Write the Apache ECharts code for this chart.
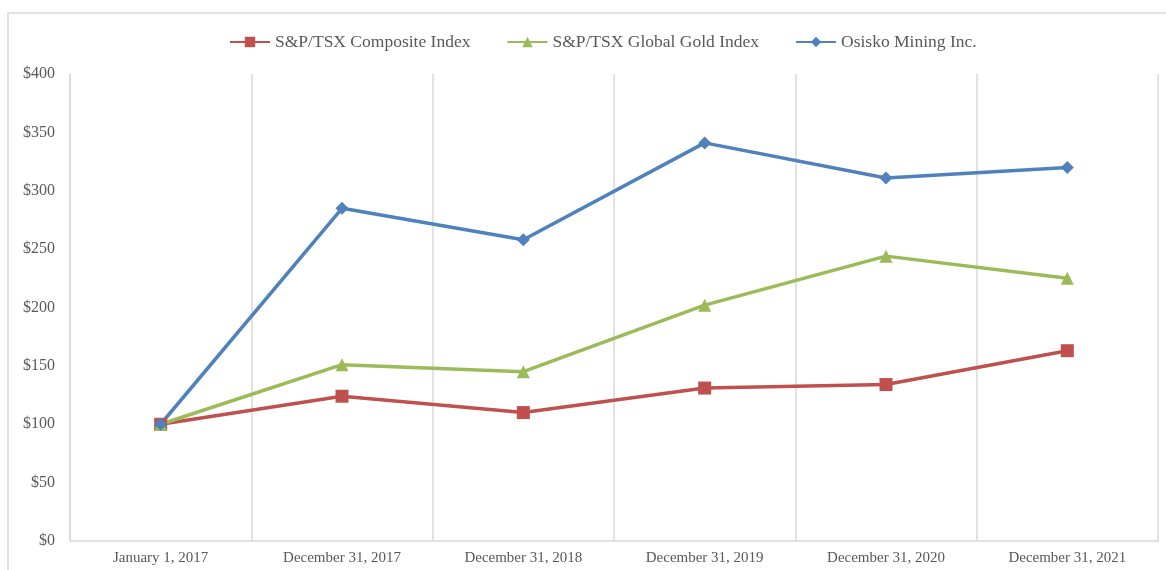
<!DOCTYPE html>
<html><head><meta charset="utf-8">
<script src="https://cdn.jsdelivr.net/npm/echarts@6/dist/echarts.min.js"></script>
<style>html,body{margin:0;padding:0;background:#fff}#c{width:1166px;height:570px}</style>
</head><body><div id="c"></div>
<script>
const categories = ["January 1, 2017","December 31, 2017","December 31, 2018","December 31, 2019","December 31, 2020","December 31, 2021"];
const composite = [100, 124, 110, 131, 134, 163];
const gold = [100, 151, 145, 202, 244, 225];
const osisko = [100, 285, 258, 341, 311, 320];
const yTicks = [0, 50, 100, 150, 200, 250, 300, 350, 400];

const chart = echarts.init(document.getElementById('c'), null, {renderer:'canvas'});
const font = '"Liberation Serif", "Times New Roman", serif';
chart.setOption({
  animation:false,
  graphic:[{type:'rect', shape:{x:8, y:13, width:1170, height:570}, style:{fill:'none', stroke:'#d9d9d9', lineWidth:1.5}, silent:true, z:-1}],
  legend:{top:28, left:224, itemGap:36, itemWidth:40, itemHeight:13,
    textStyle:{fontFamily:font, fontSize:17.5, color:'#595959'},
    data:['S&P/TSX Composite Index','S&P/TSX Global Gold Index','Osisko Mining Inc.']},
  grid:{left:70, right:8, top:74, bottom:29, containLabel:false},
  xAxis:{type:'category', data:categories, boundaryGap:true,
    axisLine:{lineStyle:{color:'#d9d9d9', width:1.5}}, axisTick:{show:false},
    splitLine:{show:true, lineStyle:{color:'#d9d9d9', width:1.5}},
    axisLabel:{fontFamily:font, fontSize:15, color:'#595959', margin:10, interval:0}},
  yAxis:{type:'value', min:yTicks[0], max:yTicks[yTicks.length-1], interval:50,
    axisLine:{show:true, lineStyle:{color:'#d9d9d9', width:1.5}}, axisTick:{show:false},
    splitLine:{show:false},
    axisLabel:{fontFamily:font, fontSize:16, color:'#595959', margin:15, formatter:v=>'$'+v}},
  series:[
    {name:'S&P/TSX Composite Index', type:'line', data:composite, color:'#C0504D', symbol:'rect', symbolSize:13, lineStyle:{width:3.5}},
    {name:'S&P/TSX Global Gold Index', type:'line', data:gold, color:'#9BBB59', symbol:'triangle', symbolSize:13, lineStyle:{width:3.5}},
    {name:'Osisko Mining Inc.', type:'line', data:osisko, color:'#4F81BD', symbol:'diamond', symbolSize:13, lineStyle:{width:3.5}}
  ]
});
</script></body></html>
